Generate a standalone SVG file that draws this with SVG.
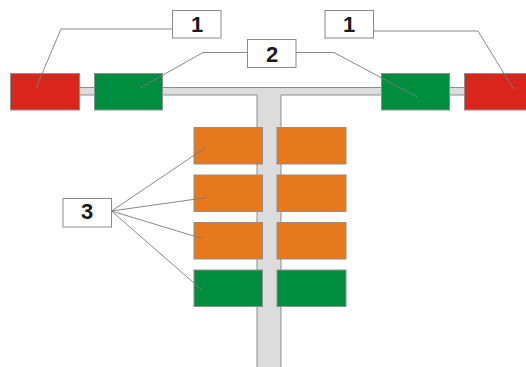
<svg xmlns="http://www.w3.org/2000/svg" width="526" height="367" viewBox="0 0 526 367">
<style>
.bar{fill:#dcdcdc;stroke:#8c8c8c;stroke-width:1}
.box{stroke:#8f8f8f;stroke-width:1}
.red{fill:#d9251c}
.green{fill:#008d3f}
.orange{fill:#e5791c}
.lbl{fill:#fff;stroke:#8a8a8a;stroke-width:1}
.num{font-family:"Liberation Sans",Arial,sans-serif;font-weight:bold;font-size:22px;fill:#1a1a1a;text-anchor:middle}
.lead{fill:none;stroke:#7a7a7a;stroke-width:0.9}
</style>
<path class="bar" d="M70 87.5 H475 V95 H281 V372 H257 V95 H70 Z"/>
<g id="red-left"><rect class="box red" x="10.5" y="73.5" width="69" height="36.5"/></g>
<g id="green-left"><rect class="box green" x="94.5" y="73.5" width="68" height="36.5"/></g>
<g id="green-right"><rect class="box green" x="381.5" y="73.5" width="68" height="36.5"/></g>
<g id="red-right"><rect class="box red" x="464.5" y="73.5" width="70" height="36.5"/></g>
<g id="orange-l1"><rect class="box orange" x="194" y="127.5" width="68.5" height="36.5"/></g>
<g id="orange-r1"><rect class="box orange" x="277" y="127.5" width="69" height="36.5"/></g>
<g id="orange-l2"><rect class="box orange" x="194" y="175" width="68.5" height="36.5"/></g>
<g id="orange-r2"><rect class="box orange" x="277" y="175" width="69" height="36.5"/></g>
<g id="orange-l3"><rect class="box orange" x="194" y="222.5" width="68.5" height="36.5"/></g>
<g id="orange-r3"><rect class="box orange" x="277" y="222.5" width="69" height="36.5"/></g>
<g id="green-l4"><rect class="box green" x="194" y="270" width="68.5" height="36.5"/></g>
<g id="green-r4"><rect class="box green" x="277" y="270" width="69" height="36.5"/></g>
<g id="connectors">
<polyline class="lead" points="172,29 61,29 36,88"/>
<polyline class="lead" points="247.5,52.5 203,52.5 140,88"/>
<polyline class="lead" points="296,52.5 334,52.5 418,97.5"/>
<polyline class="lead" points="374,31 478,31 513.5,89"/>
<line class="lead" x1="111.5" y1="211" x2="205" y2="148"/>
<line class="lead" x1="111.5" y1="211" x2="207" y2="197.5"/>
<line class="lead" x1="111.5" y1="211" x2="202" y2="238.5"/>
<line class="lead" x1="111.5" y1="211" x2="202" y2="290"/>
</g>
<g id="label-1-left"><rect class="lbl" x="172.5" y="10.5" width="48.5" height="27.5"/><text class="num" x="197" y="32">1</text></g>
<g id="label-2"><rect class="lbl" x="247.5" y="39.5" width="48.5" height="28"/><text class="num" x="272" y="62">2</text></g>
<g id="label-1-right"><rect class="lbl" x="325" y="10.5" width="48.5" height="27.5"/><text class="num" x="349" y="32">1</text></g>
<g id="label-3"><rect class="lbl" x="63" y="198.5" width="48.5" height="28.5"/><text class="num" x="87" y="219">3</text></g>
</svg>
